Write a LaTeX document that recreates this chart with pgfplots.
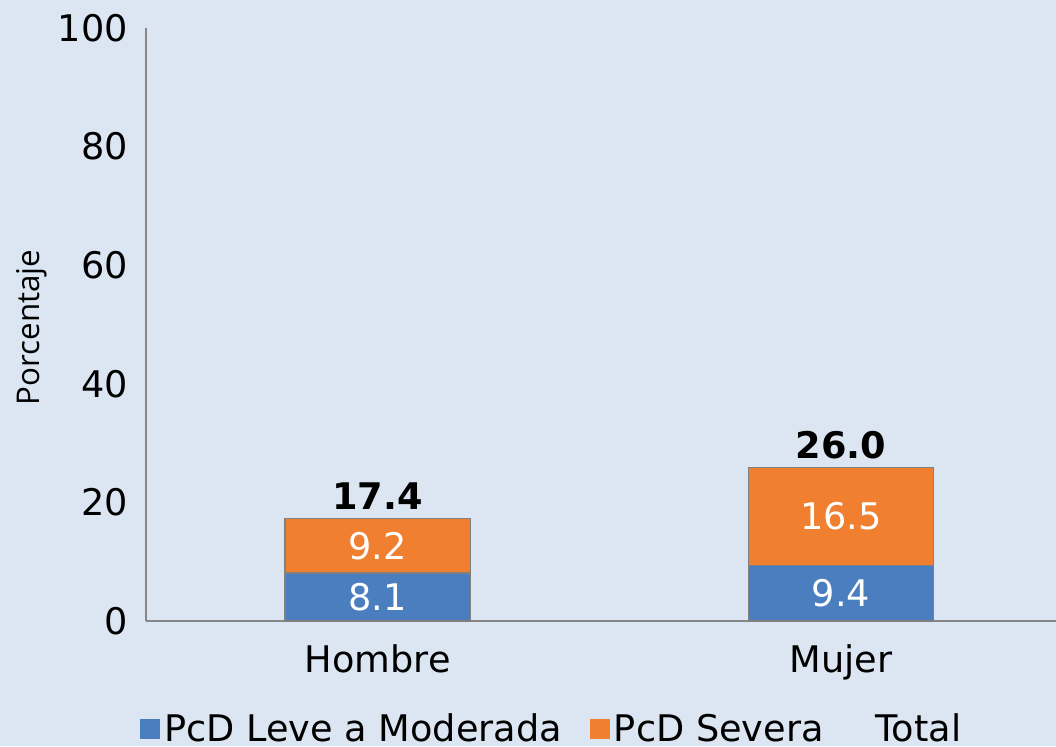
\documentclass[border=0pt]{standalone}
\usepackage{pgfplots}
\pgfplotsset{compat=1.18}
\usepackage{fontspec}
\setmainfont{DejaVu Sans}
\newfontfamily\labelfont{Open Sans}

\definecolor{bgblue}{RGB}{220,230,242}
\definecolor{leve}{RGB}{74,126,191}
\definecolor{severa}{RGB}{240,127,48}
\definecolor{edge}{RGB}{128,128,128}
\definecolor{axisgray}{RGB}{134,134,134}

\pgfplotsset{
    frame/.style={at={(109.5pt,93.75pt)}, anchor=south west,
        scale only axis, width=682.5pt, height=444.75pt,
        xmin=-0.5, xmax=1.464, ymin=0, ymax=100, clip=false, bar width=0.4},
    sqlegend/.style={legend image code/.code={\draw[##1, draw=none] (0pt,-7.5pt) rectangle (15pt,7.5pt);}},
    % stacked nodes near coords already sit in the middle of each segment
    inlabel/.style={every node near coord/.append style={anchor=center,
            text=white, font=\fontsize{27.5}{33}\selectfont}},
}

\begin{document}
\begin{tikzpicture}
\fill[bgblue] (0,0) rectangle (792pt,559.5pt);
\useasboundingbox (0,0) rectangle (792pt,559.5pt);
\begin{axis}[
    frame, ybar stacked,
    axis x line*=bottom, axis y line*=left,
    axis line style={axisgray, line width=1.2pt, -},
    xtick={0,1}, xticklabels={Hombre,Mujer},
    ytick={0,20,...,100},
    major tick length=0pt,
    tick label style={font=\fontsize{27.5}{33}\selectfont},
    /pgf/number format/assume math mode=true,
    yticklabel style={anchor=east, inner sep=0pt, xshift=-13.5pt},
    xticklabel style={anchor=base, inner sep=0pt, yshift=-38.25pt},
    ylabel={Porcentaje},
    every axis y label/.style={at={(axis description cs:-0.1253,0.495)}, anchor=center, rotate=90,
        font=\labelfont\fontsize{23.5}{28}\selectfont},
    legend style={at={(axis description cs:0.447,-0.1821)}, anchor=center,
        draw=none, fill=none, legend columns=3,
        font=\fontsize{27.5}{33}\selectfont,
        nodes={inner xsep=3pt, inner ysep=2pt},
        /tikz/every even column/.append style={column sep=18pt}},
    legend cell align=left,
    point meta=explicit,
    nodes near coords={\pgfmathprintnumber[fixed,fixed zerofill,precision=1]{\pgfplotspointmeta}},
]
% PcD Leve a Moderada
\addplot[fill=leve, draw=edge, line width=0.9pt, inlabel, sqlegend]
    coordinates {(0,8.1) [8.1] (1,9.4) [9.4]};
% PcD Severa
\addplot[fill=severa, draw=edge, line width=0.9pt, inlabel, sqlegend]
    coordinates {(0,9.2) [9.2] (1,16.5) [16.5]};
% Total (legend only; labels in the overlay axis)
\addlegendimage{sqlegend, draw=none, fill=none}
\legend{PcD Leve a Moderada, PcD Severa, Total}
\end{axis}
\begin{axis}[
    frame, ybar, hide axis,
    /pgf/number format/assume math mode=true,
    nodes near coords={\pgfmathprintnumber[fixed,fixed zerofill,precision=1]{\pgfplotspointmeta}},
    every node near coord/.append style={anchor=south, yshift=6pt, inner sep=0pt,
        text=black, font=\bfseries\fontsize{27.5}{33}\selectfont},
]
\addplot[draw=none, fill=none] coordinates {(0,17.4) (1,26.0)};
\end{axis}
\end{tikzpicture}
\end{document}
